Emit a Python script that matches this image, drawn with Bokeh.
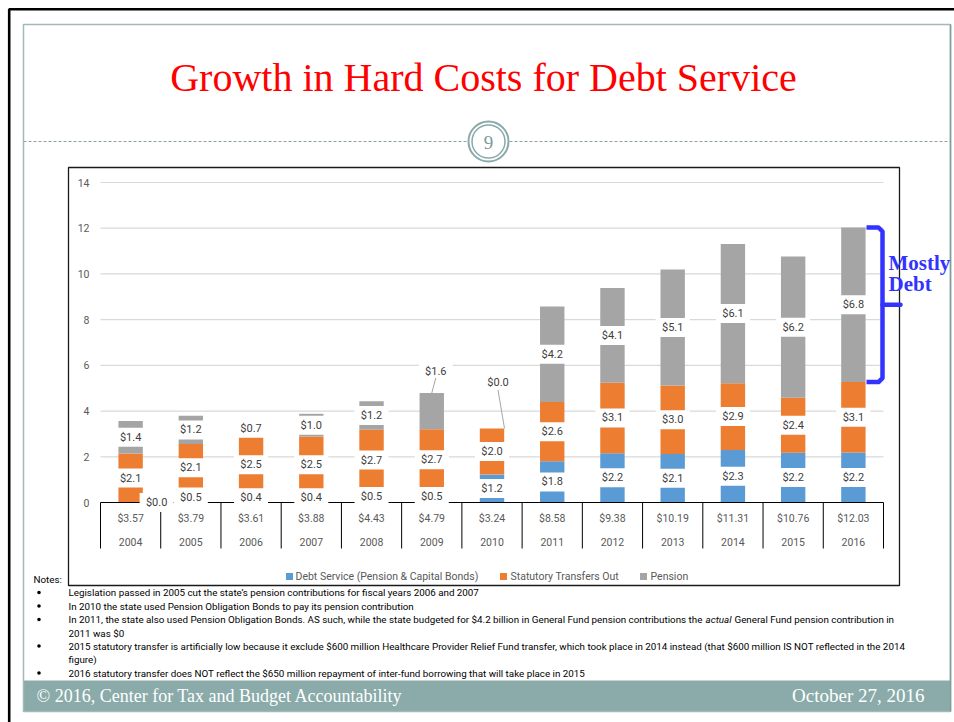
import numpy as np
from bokeh.plotting import figure
from bokeh.models import Range1d, ColumnDataSource
from bokeh.core.properties import value
from bokeh.embed import file_html
from bokeh.resources import INLINE

# ---------------- data ----------------
years = ["2004", "2005", "2006", "2007", "2008", "2009", "2010",
         "2011", "2012", "2013", "2014", "2015", "2016"]
totals = ["$3.57", "$3.79", "$3.61", "$3.88", "$4.43", "$4.79", "$3.24",
          "$8.58", "$9.38", "$10.19", "$11.31", "$10.76", "$12.03"]
debt = [0.00, 0.48, 0.41, 0.41, 0.52, 0.52, 1.22, 1.80, 2.16, 2.12, 2.30, 2.18, 2.19]
transfers = [2.14, 2.08, 2.48, 2.48, 2.67, 2.69, 2.02, 2.60, 3.08, 3.00, 2.92, 2.40, 3.08]
pension = [1.43, 1.23, 0.72, 0.99, 1.24, 1.58, 0.00, 4.18, 4.14, 5.07, 6.09, 6.18, 6.76]
series_keys = ["debt", "transfers", "pension"]
series_names = ["Debt Service (Pension & Capital Bonds)", "Statutory Transfers Out", "Pension"]
series_colors = ["#5b9bd5", "#ed7d31", "#a5a5a5"]
y_ticks = [0, 2, 4, 6, 8, 10, 12, 14]

title_text = "Growth in Hard Costs for Debt Service"
page_number = "9"
notes_header = "Notes:"
notes_lines = [
    (True, "Legislation passed in 2005 cut the state\u2019s pension contributions for fiscal years 2006 and 2007"),
    (True, "In 2010 the state used Pension Obligation Bonds to pay its pension contribution"),
    (True, None),
    (False, "2011 was $0"),
    (True, "2015 statutory transfer is artificially low because it exclude $600 million Healthcare Provider Relief Fund transfer, which took place in 2014 instead (that $600 million IS NOT reflected in the 2014"),
    (False, "figure)"),
    (True, "2016 statutory transfer does NOT reflect the $650 million repayment of inter-fund borrowing that will take place in 2015"),
]
note3_parts = ["In 2011, the state also used Pension Obligation Bonds. AS such, while the state budgeted for $4.2 billion in General Fund pension contributions the",
               "actual", "General Fund pension contribution in"]
footer_left = "\u00a9 2016, Center for Tax and Budget Accountability"
footer_right = "October 27, 2016"
annot_lines = ["Mostly", "Debt"]

# ---------------- layout ----------------
W, H = 954, 722
PL, PR, PT, PB = 100, 883, 182, 502
YMAX = 14
n = len(years)
cw = (PR - PL) / n
ppu = (PB - PT) / YMAX

SANS = value("Roboto")
SERIF = value("Liberation Serif")
TICK_C = "#595959"
NOTE_FS = "9.8px"

p = figure(width=W, height=H, x_range=Range1d(0, W), y_range=Range1d(H, 0),
           min_border=0, toolbar_location=None, output_backend="svg",
           x_axis_type=None, y_axis_type=None, outline_line_color=None,
           background_fill_color="white", border_fill_color="white", title=None)
p.extra_x_ranges = {"cat": Range1d(-PL / cw - 0.5, (W - PL) / cw - 0.5)}
p.extra_y_ranges = {"val": Range1d(-(H - PB) / ppu, PB / ppu)}

# ---------------- slide decoration ----------------
p.quad(left=[23], right=[950], top=[680], bottom=[711], fill_color="#8aabaa", line_color=None)
p.quad(left=[23], right=[950], top=[24], bottom=[711], fill_color=None,
       line_color="#a3b9b9", line_width=1.5)
p.segment(x0=[950], x1=[950], y0=[24], y1=[711], line_color="#7f9c9c", line_width=1.5)
p.line(x=[8.7, 8.7, W], y=[H, 8.7, 8.7], line_color="black", line_width=2.6)

p.text(x=[483], y=[77], text=[title_text], text_font=SERIF, text_font_size="40px",
       text_color="#ff0000", text_align="center", text_baseline="middle")

p.segment(x0=[23, 509], x1=[467, 950], y0=[141, 141], y1=[141, 141],
          line_color="#8ea3a3", line_width=1, line_dash="3 2")
p.scatter(x=[488], y=[141], size=40, marker="circle", fill_color="white",
          line_color="#8aa9a9", line_width=2)
p.scatter(x=[488], y=[141], size=33, marker="circle", fill_color=None,
          line_color="#8aa9a9", line_width=1.5)
p.text(x=[488], y=[142], text=[page_number], text_font=SERIF, text_font_size="19px",
       text_color="#7d9a9a", text_align="center", text_baseline="middle")

# chart box
p.quad(left=[68], right=[899], top=[167], bottom=[585], fill_color=None,
       line_color="#1a1a1a", line_width=1.3)

# ---------------- chart ----------------
idx = list(range(n))
src = ColumnDataSource(dict(idx=idx, debt=debt, transfers=transfers, pension=pension))

# gridlines
p.segment(x0=[-0.5] * (len(y_ticks) - 1), x1=[n - 0.5] * (len(y_ticks) - 1),
          y0=y_ticks[1:], y1=y_ticks[1:], x_range_name="cat", y_range_name="val",
          line_color="#d9d9d9", line_width=1.2)
# y tick labels
p.text(x=[89] * len(y_ticks), y=y_ticks, text=[str(t) for t in y_ticks], y_range_name="val",
       text_font=SANS, text_font_size="10.5px", text_color=TICK_C,
       text_align="right", text_baseline="middle")

# bars
p.vbar_stack(series_keys, x="idx", width=0.405, color=series_colors, source=src,
             line_color=None, x_range_name="cat", y_range_name="val")

# baseline and category separators
p.segment(x0=[-0.5], x1=[n - 0.5], y0=[0], y1=[0], x_range_name="cat", y_range_name="val",
          line_color="black", line_width=1)
p.segment(x0=[k - 0.5 for k in range(n + 1)], x1=[k - 0.5 for k in range(n + 1)],
          y0=[PB] * (n + 1), y1=[548] * (n + 1), x_range_name="cat",
          line_color="black", line_width=1)
p.text(x=idx, y=[518] * n, text=totals, x_range_name="cat", text_font=SANS,
       text_font_size="10.5px", text_color=TICK_C, text_align="center", text_baseline="middle")
p.text(x=idx, y=[541] * n, text=years, x_range_name="cat", text_font=SANS,
       text_font_size="10.5px", text_color=TICK_C, text_align="center", text_baseline="middle")

# data labels
label_dx_px = {("2004", 0): 26}
callouts = {("2009", 2): (4, 22, 0), ("2010", 2): (6, 45.5, 12.5)}
lx, ly, lt = [], [], []
leader_x0, leader_x1, leader_y0, leader_y1 = [], [], [], []
arr = np.array([debt, transfers, pension])
for i, yr in enumerate(years):
    base = 0.0
    for s in range(3):
        v = arr[s, i]
        key = (yr, s)
        if key in callouts:
            dx, dy, edx = callouts[key]
            top = base + v
            x_lab = i + dx / cw
            y_lab = top + dy / ppu
            lx.append(x_lab); ly.append(y_lab)
            leader_x0.append(x_lab); leader_y0.append(y_lab - 7 / ppu)
            leader_x1.append(i + edx / cw); leader_y1.append(top)
        else:
            lx.append(i + label_dx_px.get(key, 0) / cw)
            ly.append(base + v / 2)
        lt.append("$%.1f" % v)
        base += v

p.rect(x=lx, y=ly, width=34, height=19, width_units="screen", height_units="screen",
       fill_color="white", line_color=None, x_range_name="cat", y_range_name="val")
p.segment(x0=leader_x0, x1=leader_x1, y0=leader_y0, y1=leader_y1, x_range_name="cat",
          y_range_name="val", line_color="#a6a6a6", line_width=1)
p.text(x=lx, y=ly, text=lt, x_range_name="cat", y_range_name="val", text_font=SANS,
       text_font_size="11px", text_color="#404040", text_align="center", text_baseline="middle")

# legend
leg_sq_x = [289, 503, 643]
leg_tx_x = [295, 510, 650]
p.rect(x=leg_sq_x, y=[576] * 3, width=7, height=7, fill_color=series_colors, line_color=None)
p.text(x=leg_tx_x, y=[576] * 3, text=series_names, text_font=SANS, text_font_size="10.5px",
       text_color=TICK_C, text_align="left", text_baseline="middle")

# "Mostly Debt" bracket on the last year's pension segment
b_top = debt[-1] + transfers[-1] + pension[-1]
b_bot = debt[-1] + transfers[-1]
b_mid = (b_top + b_bot) / 2
r = 4 / ppu
p.line(x=[866, 878, 882, 882, 878, 866], y=[b_top, b_top, b_top - r, b_bot + r, b_bot, b_bot],
       y_range_name="val", line_color="#3333ff", line_width=4.5, line_join="round")
p.segment(x0=[882], x1=[900], y0=[b_mid], y1=[b_mid], y_range_name="val",
          line_color="#3333ff", line_width=4.5, line_cap="round")
p.text(x=[888, 888], y=[262, 283.5], text=annot_lines, text_font=SERIF, text_font_size="21px",
       text_font_style="bold", text_color="#3333ff", text_align="left", text_baseline="middle")

# ---------------- notes ----------------
p.text(x=[33], y=[579], text=[notes_header], text_font=SANS, text_font_size=NOTE_FS,
       text_color="black", text_baseline="middle")
note_y = [592, 605.5, 619, 632.5, 645.5, 659, 672.5]
bx, by = [], []
tx, ty, tt = [], [], []
for (bullet, txt), yy in zip(notes_lines, note_y):
    if bullet:
        bx.append(38.5); by.append(yy)
    if txt is not None:
        tx.append(68); ty.append(yy); tt.append(txt)
p.scatter(x=bx, y=by, size=3.6, marker="circle", fill_color="black", line_color=None)
p.text(x=tx, y=ty, text=tt, text_font=SANS, text_font_size=NOTE_FS,
       text_color="black", text_baseline="middle")
p.text(x=[68, 734], y=[619, 619], text=[note3_parts[0], note3_parts[2]], text_font=SANS,
       text_font_size=NOTE_FS, text_color="black", text_baseline="middle")
p.text(x=[705], y=[619], text=[note3_parts[1]], text_font=SANS, text_font_size=NOTE_FS,
       text_font_style="italic", text_color="black", text_baseline="middle")

# footer
p.text(x=[36], y=[695], text=[footer_left], text_font=SERIF, text_font_size="18px",
       text_color="white", text_align="left", text_baseline="middle")
p.text(x=[924], y=[695], text=[footer_right], text_font=SERIF, text_font_size="19px",
       text_color="white", text_align="right", text_baseline="middle")

open("out.html", "w").write(file_html(p, INLINE))
